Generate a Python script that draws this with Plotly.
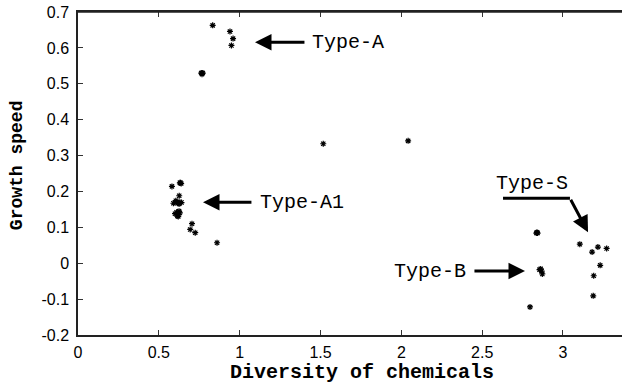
import plotly.graph_objects as go

# Data
diversity = [0.833, 0.940, 0.959, 0.949, 0.762, 0.767, 0.772, 0.767,
             1.517, 2.042,
             0.581, 0.630, 0.634, 0.638, 0.626,
             0.590, 0.600, 0.610, 0.620, 0.630, 0.640, 0.605, 0.625,
             0.600, 0.610, 0.620, 0.630, 0.615, 0.625, 0.620,
             0.705, 0.694, 0.725, 0.860,
             2.835, 2.839, 2.843, 2.855, 2.862, 2.868, 2.872,
             2.796, 3.104, 3.180, 3.216, 3.270, 3.230, 3.190, 3.187]
growth = [0.663, 0.646, 0.626, 0.607, 0.530, 0.530, 0.530, 0.527,
          0.333, 0.341,
          0.214, 0.224, 0.224, 0.222, 0.188,
          0.167, 0.169, 0.171, 0.168, 0.170, 0.169, 0.174, 0.165,
          0.138, 0.142, 0.136, 0.140, 0.132, 0.145, 0.130,
          0.110, 0.094, 0.085, 0.057,
          0.084, 0.086, 0.084, -0.018, -0.016, -0.022, -0.030,
          -0.122, 0.053, 0.031, 0.045, 0.041, -0.006, -0.035, -0.091]

labels = ["Type-A", "Type-A1", "Type-S", "Type-B"]
label_x = [1.67, 1.385, 2.81, 2.177]
label_y = [0.616, 0.170, 0.222, -0.022]
arrow_tip_x = [1.095, 0.773, 3.155, 2.765]
arrow_tip_y = [0.616, 0.170, 0.086, -0.022]
arrow_tail_x = [1.410, 1.082, 3.043, 2.443]
arrow_tail_y = [0.616, 0.170, 0.181, -0.022]
bend_start_x = 2.629

x_ticks = [0, 0.5, 1, 1.5, 2, 2.5, 3]
x_tick_text = ["0", "0.5", "1", "1.5", "2", "2.5", "3"]
y_ticks = [-0.2, -0.1, 0, 0.1, 0.2, 0.3, 0.4, 0.5, 0.6, 0.7]
y_tick_text = ["-0.2", "-0.1", "0", "0.1", "0.2", "0.3", "0.4", "0.5", "0.6", "0.7"]

x_title = "Diversity of chemicals"
y_title = "Growth speed"

fig = go.Figure()
fig.add_trace(go.Scatter(
    x=diversity, y=growth, mode="markers",
    marker=dict(symbol="asterisk-open", size=5, color="black",
                line=dict(color="black", width=1.2)),
    showlegend=False, hoverinfo="x+y"))

mono = "Liberation Mono, Courier New, monospace"
for t, lx, ly in zip(labels, label_x, label_y):
    fig.add_annotation(x=lx, y=ly, text=t, showarrow=False,
                       xanchor="center", yanchor="middle",
                       font=dict(family=mono, size=20, color="black"))
for tx, ty, ax, ay in zip(arrow_tip_x, arrow_tip_y, arrow_tail_x, arrow_tail_y):
    fig.add_annotation(x=tx, y=ty, ax=ax, ay=ay, axref="x", ayref="y",
                       text="", showarrow=True, arrowhead=2, arrowsize=1.1,
                       arrowwidth=3, arrowcolor="black", standoff=0)
# horizontal part of the bent Type-S arrow
fig.add_shape(type="line", x0=bend_start_x, y0=arrow_tail_y[2],
              x1=arrow_tail_x[2], y1=arrow_tail_y[2],
              line=dict(color="black", width=3))
# top frame line
fig.add_shape(type="line", xref="paper", yref="paper", x0=0, x1=1, y0=1, y1=1,
              line=dict(color="#222", width=1.5))

# axis titles
fig.add_annotation(xref="paper", yref="paper", x=0.522, y=-0.1146,
                   xanchor="center", yanchor="middle",
                   text="<b>" + x_title + "</b>", showarrow=False,
                   font=dict(family=mono, size=20, color="black"))
fig.add_annotation(xref="paper", yref="paper", x=-0.112, y=0.526,
                   xanchor="center", yanchor="middle",
                   text="<b>" + y_title + "</b>", showarrow=False, textangle=-90,
                   font=dict(family=mono, size=18, color="black"))

fig.update_xaxes(range=[-0.0001, 3.365], tickvals=x_ticks, ticktext=x_tick_text,
                 ticks="inside", ticklen=5, tickcolor="#333", showline=True,
                 linecolor="#222", linewidth=1.5, mirror="ticks",
                 showgrid=False, zeroline=False, automargin=False,
                 ticklabelstandoff=2,
                 tickfont=dict(family="Liberation Sans, Arial", size=16, color="black"))
fig.update_yaxes(range=[-0.2002, 0.7002], tickvals=y_ticks, ticktext=y_tick_text,
                 ticks="inside", ticklen=5, tickcolor="#333", showline=True,
                 linecolor="#222", linewidth=1.5, mirror=False,
                 showgrid=False, zeroline=False, automargin=False,
                 ticklabelstandoff=4,
                 tickfont=dict(family="Liberation Sans, Arial", size=16, color="black"))
fig.update_layout(width=622, height=387,
                  margin=dict(l=78, r=0, t=12, b=52, autoexpand=False),
                  paper_bgcolor="white", plot_bgcolor="white")
fig.write_html("out.html", config={"displayModeBar": False},
               post_script="document.body.style.margin='0';document.body.style.overflow='hidden';")
